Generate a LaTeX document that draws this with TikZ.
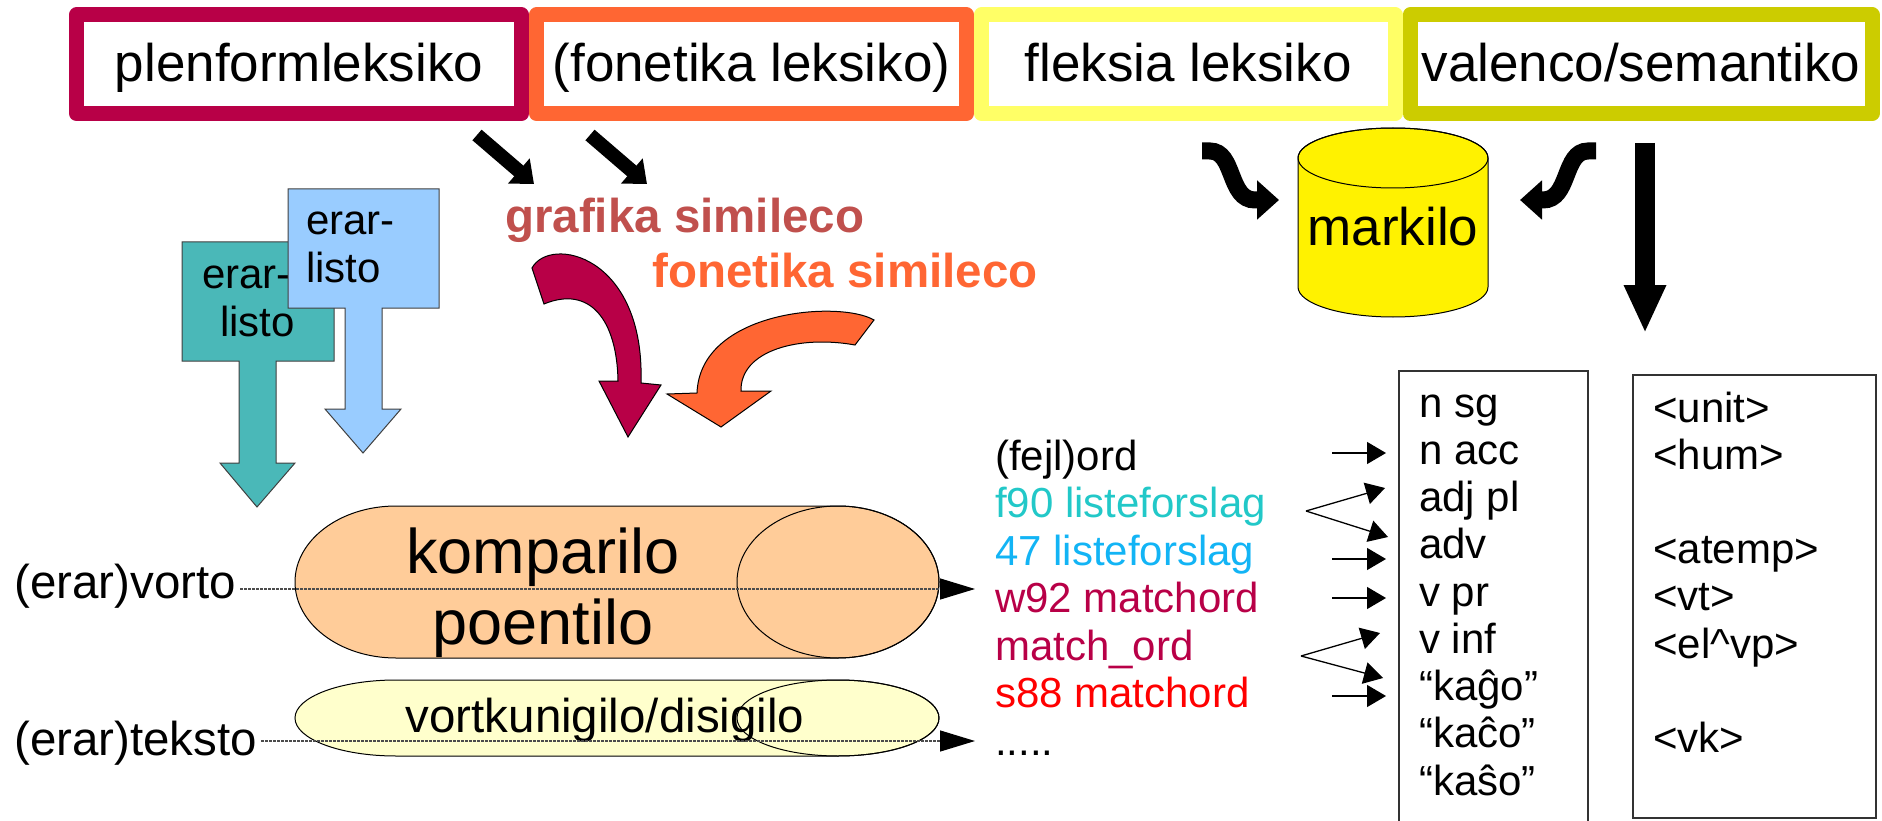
\documentclass[tikz,border=0pt]{standalone}
\usepackage{fontspec}
\setmainfont{Liberation Sans}
\usepackage{xcolor}
\usetikzlibrary{positioning,arrows.meta}

\definecolor{ruby}{HTML}{B80047}
\definecolor{tangerine}{HTML}{FF6633}
\definecolor{lemon}{HTML}{FFFF66}
\definecolor{mustard}{HTML}{CCCC00}
\definecolor{brick}{HTML}{C0504D}
\definecolor{tealbox}{HTML}{4AB8B8}
\definecolor{skybox}{HTML}{99CCFF}
\definecolor{peach}{HTML}{FFCC99}
\definecolor{cream}{HTML}{FFFFCC}
\definecolor{candcyan}{HTML}{22C8C8}
\definecolor{candblue}{HTML}{12B4F5}

\begin{document}
\begin{tikzpicture}[x=1pt,y=-1pt,node distance=0pt,
    lexbox/.style={draw=#1, line width=15pt, line join=round, minimum height=98.5pt,
      inner sep=0pt, text height=38pt, text depth=2.5pt, font=\fontsize{53pt}{60pt}\selectfont},
    simtext/.style={text=#1, inner sep=0pt, anchor=base west,
      font=\fontsize{47.5pt}{54pt}\selectfont\bfseries},
    sidetext/.style={inner sep=0pt, font=\fontsize{47.5pt}{54pt}\selectfont},
    listtext/.style={inner sep=0pt, anchor=base west, font=\fontsize{42pt}{48pt}\selectfont},
    blockarrow/.style={line width=14pt, -{Triangle[length=20pt,width=32pt]}},
    curly/.style={line width=17pt, -{Triangle[length=22pt,width=38pt]}},
    tagarrow/.style={line width=1.3pt, -{Triangle[length=19pt,width=22pt]}},
    dotline/.style={black!70, line width=1.3pt, dash pattern=on 2.5pt off 1.5pt,
      -{Triangle[length=35pt,width=21pt,color=black]}},
    listbox/.style={draw=black!80, line width=1.3pt, inner sep=0pt}]
    \useasboundingbox (0,0) rectangle (1882,821);

    % Lexicons
    \node[lexbox=ruby, minimum width=445pt] (plenform) at (299,64.25) {plenformleksiko};
    \node[lexbox=tangerine, minimum width=430pt, right=of plenform] (fonetik) {(fonetika leksiko)};
    \node[lexbox=lemon, minimum width=413.5pt, right=of fonetik] (fleksia) {fleksia leksiko};
    \node[lexbox=mustard, minimum width=462pt, right=of fleksia] (valenco) {valenco/semantiko};

    % Similarity
    \node[simtext=brick] (grafika) at (505,233) {grafika simileco};
    \node[simtext=tangerine] (fonsim) at (652,287) {fonetika simileco};
    \coordinate (plenOut) at (477,135);
    \coordinate (grafIn) at (534,184);
    \coordinate (fonOut) at (590,135);
    \coordinate (fonIn) at (647,184);
    \draw[blockarrow] (plenOut) -- (grafIn);
    \draw[blockarrow] (fonOut) -- (fonIn);

    \filldraw[fill=ruby, draw=black, line width=1pt]
      (532,268) .. controls (550,235) and (645,255) .. (641,383)
      -- (661,385) -- (628,437) -- (599,381) -- (618,381)
      .. controls (617,320) and (590,285) .. (544,304) -- cycle;
    \filldraw[fill=tangerine, draw=black, line width=1pt]
      (874,320) .. controls (840,300) and (700,310) .. (697,393)
      -- (667,394) -- (721,427) -- (771,391) -- (741,391)
      .. controls (740,350) and (800,335) .. (855,345) -- cycle;

    % Error lists
    \filldraw[fill=tealbox, draw=black!75, line width=1pt]
      (182,242) -- (334,242) -- (334,361) -- (276,361) -- (276,463) -- (295,463)
      -- (257,507) -- (220,463) -- (239,463) -- (239,361) -- (182,361) -- cycle;
    \node[listtext] (erar1a) at (202,288) {erar-};
    \node[listtext] (erar1b) at (220,336) {listo};
    \filldraw[fill=skybox, draw=black!75, line width=1pt]
      (288,189) -- (439,189) -- (439,308) -- (382,308) -- (382,409) -- (401,409)
      -- (363,453) -- (325,409) -- (345,409) -- (345,308) -- (288,308) -- cycle;
    \node[listtext] (erar2a) at (306,235) {erar-};
    \node[listtext] (erar2b) at (306,282) {listo};

    % Marker
    \filldraw[fill=yellow, draw=black, line width=1pt]
      (1298,158) -- (1298,287) arc[start angle=180, end angle=360, x radius=95pt, y radius=30pt]
      -- (1488,158) arc[start angle=0, end angle=180, x radius=95pt, y radius=30pt] -- cycle;
    \draw[line width=1pt] (1393,158) ellipse[x radius=95pt, y radius=30pt];
    \node[inner sep=0pt, anchor=base, font=\fontsize{53pt}{60pt}\selectfont] (markilo) at (1393,246) {markilo};
    \coordinate (flexOut) at (1202,151);
    \coordinate (markWest) at (1279,200);
    \coordinate (valOut) at (1596,151);
    \coordinate (markEast) at (1520,200);
    \draw[curly] (flexOut) -- (1210,151) .. controls (1235,151) and (1228,200) .. (1255,200) -- (markWest);
    \draw[curly] (valOut) -- (1588,151) .. controls (1563,151) and (1570,200) .. (1543,200) -- (markEast);
    \coordinate (semOut) at (1645,143);
    \coordinate (semIn) at (1645,333);
    \draw[line width=20pt, -{Triangle[length=48pt,width=39pt]}] (semOut) -- (semIn);

    % Comparator
    \filldraw[fill=peach, draw=black, line width=1pt]
      (396,506) -- (838,506) arc[start angle=90, end angle=-90, x radius=101pt, y radius=76pt]
      -- (396,658) arc[start angle=270, end angle=90, x radius=101pt, y radius=76pt] -- cycle;
    \draw[line width=1pt] (838,582) ellipse[x radius=101pt, y radius=76pt];
    \node[inner sep=0pt, anchor=base, font=\fontsize{63pt}{71pt}\selectfont] (komparilo) at (543,573) {komparilo};
    \node[inner sep=0pt, anchor=base, font=\fontsize{63pt}{71pt}\selectfont] (poentilo) at (543,644) {poentilo};

    % Tokenizer
    \filldraw[fill=cream, draw=black, line width=1pt]
      (396,680) -- (838,680) arc[start angle=90, end angle=-90, x radius=101pt, y radius=38pt]
      -- (396,756) arc[start angle=270, end angle=90, x radius=101pt, y radius=38pt] -- cycle;
    \draw[line width=1pt] (838,718) ellipse[x radius=101pt, y radius=38pt];
    \node[sidetext, anchor=base] (kunig) at (605,732) {vortkunigilo/disigilo};

    % Input
    \node[sidetext, anchor=base west] (vorto) at (14,598) {(erar)vorto};
    \node[sidetext, anchor=base west] (teksto) at (14,755) {(erar)teksto};
    \coordinate (vortoOut) at (975,589);
    \coordinate (tekstoOut) at (975,741);
    \draw[dotline] ([xshift=4pt,yshift=9pt]vorto.base east) -- (vortoOut);
    \draw[dotline] ([xshift=4pt,yshift=14pt]teksto.base east) -- (tekstoOut);

    % Candidates
    \foreach \cand/\col [count=\i from 0] in {{(fejl)ord}/black, {f90 listeforslag}/candcyan,
        {47 listeforslag}/candblue, {w92 matchord}/ruby, {match\_ord}/ruby, {s88 matchord}/red}
      \node[listtext, text=\col] (cand\i) at (995,{470+47.5*\i}) {\cand};
    \node[listtext] (candmore) at (995,755) {.....};

    % Tags
    \node[listbox, minimum width=189pt, minimum height=452pt] (tagbox) at (1493.5,597) {};
    \foreach \tag [count=\i from 0] in {n sg, n acc, adj pl, adv, v pr, v inf, “kaĝo”, “kaĉo”, “kaŝo”}
      \node[listtext] (tag\i) at (1419,{417+47.25*\i}) {\tag};
    \node[listbox, minimum width=243pt, minimum height=443pt] (sembox) at (1754.5,596.5) {};
    \foreach \sem/\k in {<unit>/0, <hum>/1, <atemp>/3, <vt>/4, <el\textasciicircum vp>/5, <vk>/7}
      \node[listtext] (sem\k) at (1653,{422+47.2*\k}) {\sem};

    \coordinate (a1) at (1332,453);   \coordinate (b1) at (1386,453);
    \coordinate (a2) at (1306,511);   \coordinate (b2) at (1385,488);  \coordinate (c2) at (1388,537);
    \coordinate (a3) at (1332,559);   \coordinate (b3) at (1386,559);
    \coordinate (a4) at (1332,598);   \coordinate (b4) at (1386,598);
    \coordinate (a5) at (1301,656);   \coordinate (b5) at (1380,633);  \coordinate (c5) at (1383,678);
    \coordinate (a6) at (1332,696);   \coordinate (b6) at (1386,696);
    \foreach \n in {1,...,6}
      \draw[tagarrow] (a\n) -- (b\n);
    \draw[tagarrow] (a2) -- (c2);
    \draw[tagarrow] (a5) -- (c5);
\end{tikzpicture}
\end{document}
